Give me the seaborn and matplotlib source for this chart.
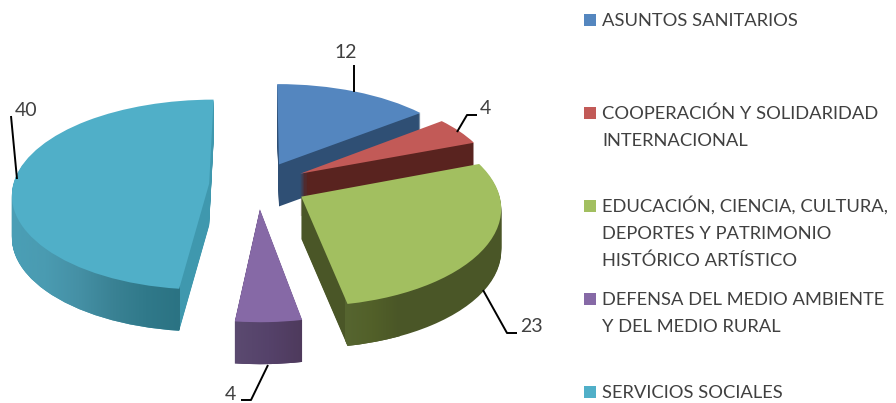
import numpy as np
import matplotlib
matplotlib.use("Agg")
import matplotlib.pyplot as plt
from matplotlib.colors import LinearSegmentedColormap
from matplotlib.path import Path
from matplotlib.transforms import Transform
import seaborn as sns

categories = ["ASUNTOS SANITARIOS",
              "COOPERACIÓN Y SOLIDARIDAD\nINTERNACIONAL",
              "EDUCACIÓN, CIENCIA, CULTURA,\nDEPORTES Y PATRIMONIO\nHISTÓRICO ARTÍSTICO",
              "DEFENSA DEL MEDIO AMBIENTE\nY DEL MEDIO RURAL",
              "SERVICIOS SOCIALES"]
values = [12, 4, 23, 4, 40]
top_colors = ["#5486BF", "#C25A57", "#A2BF60", "#8669A6", "#50AFC8"]
wall_colors = ["#2F4F74", "#59231F", "#4A5627", "#55426A", "#3F98AE"]

sns.set_theme(style="white")
plt.rcParams["font.family"] = ["Lato", "DejaVu Sans"]

CX, CY, RX, RY, KX, KY = 258.0, 185.0, 196.0, 94.0, 0.10, 0.115
DEPTH = 42


class Persp(Transform):
    input_dims = output_dims = 2
    is_separable = False
    has_inverse = False

    def __init__(self, drop):
        super().__init__()
        self.drop = drop

    def transform_non_affine(self, xy):
        xy = np.asarray(xy, float)
        u, v = xy[:, 0], xy[:, 1]
        return np.column_stack([CX + RX * u / (1.0 + KX * v),
                                CY - RY * v / (1.0 + KY * v) + self.drop])


fig = plt.figure(figsize=(8.96, 4.03), dpi=100, facecolor="white")
ax = fig.add_axes([0, 0, 1, 1])
explode = [0.25] * len(values)
order = [1, 2, 4, 5, 3]  # paint order: back to front


def draw_layer(colors, drop, z):
    wedges, _ = ax.pie(values, explode=explode, startangle=90, counterclock=False,
                       colors=colors, wedgeprops=dict(linewidth=0))
    tr = Persp(drop)
    out = []
    for i, w in enumerate(wedges):
        w.set_transform(tr + ax.transData)
        w.set_zorder(order[i] * 10 + z)
        w.set_clip_on(False)
        out.append(tr.transform_path(w.get_path()))
    return out


wall_paths = [[] for _ in values]
for d in range(DEPTH, 0, -1):
    paths = draw_layer(wall_colors, d, 0)
    for i, p in enumerate(paths):
        wall_paths[i].append(p)
draw_layer(top_colors, 0, 5)


def wall_gradient(i, x0, x1, stops):
    cmap = LinearSegmentedColormap.from_list("w", stops)
    arr = np.linspace(0, 1, 256)[None, :]
    im = ax.imshow(arr, cmap=cmap, extent=(x0, x1, 403, 0), aspect="auto",
                   zorder=order[i] * 10 + 1, interpolation="bilinear")
    im.set_clip_path(Path.make_compound_path(*wall_paths[i]), transform=ax.transData)


wall_gradient(4, 12, 180, ["#4A9FB6", "#4A9BB1", "#4590A5", "#3A8294", "#30798A", "#2B7383"])
wall_gradient(3, 235, 303, ["#5B4A70", "#55426A", "#4E3A5C"])
wall_gradient(2, 345, 400, ["#566530", "#526029", "#4A5627"])

# leader lines
leaders = [([354, 354], [65, 92]),
           ([457, 467, 477], [132, 115, 115]),
           ([483, 507, 517], [290, 333, 333]),
           ([268, 251, 241], [365, 400, 400]),
           ([11, 17], [116, 179])]
for xs, ys in leaders:
    ax.plot(xs, ys, color="black", lw=1.4, zorder=100, solid_capstyle="butt", clip_on=False)

val_pos = [(346, 52), (485, 108), (531, 327), (230, 394), (26, 110)]
for v, (x, y) in zip(values, val_pos):
    ax.text(x, y, str(v), ha="center", va="center", fontsize=14, color="#404040", zorder=101)

# legend
sq_y = [20, 113, 206, 299, 392]
base_y = [26, 119, 212, 305, 398]
ax.scatter([590] * 5, sq_y, marker="s", s=65, c=top_colors, linewidths=0, zorder=100)
line_h = 27
for lab, y in zip(categories, base_y):
    for j, line in enumerate(lab.split("\n")):
        ax.text(602, y + j * line_h, line, ha="left", va="baseline", fontsize=13.2, color="#404040", zorder=100)

ax.set_aspect("auto")
ax.set_xlim(0, 896)
ax.set_ylim(403, 0)
ax.set_xticks([])
ax.set_yticks([])
ax.set_frame_on(False)
fig.savefig("out.png", dpi=100, facecolor="white")
